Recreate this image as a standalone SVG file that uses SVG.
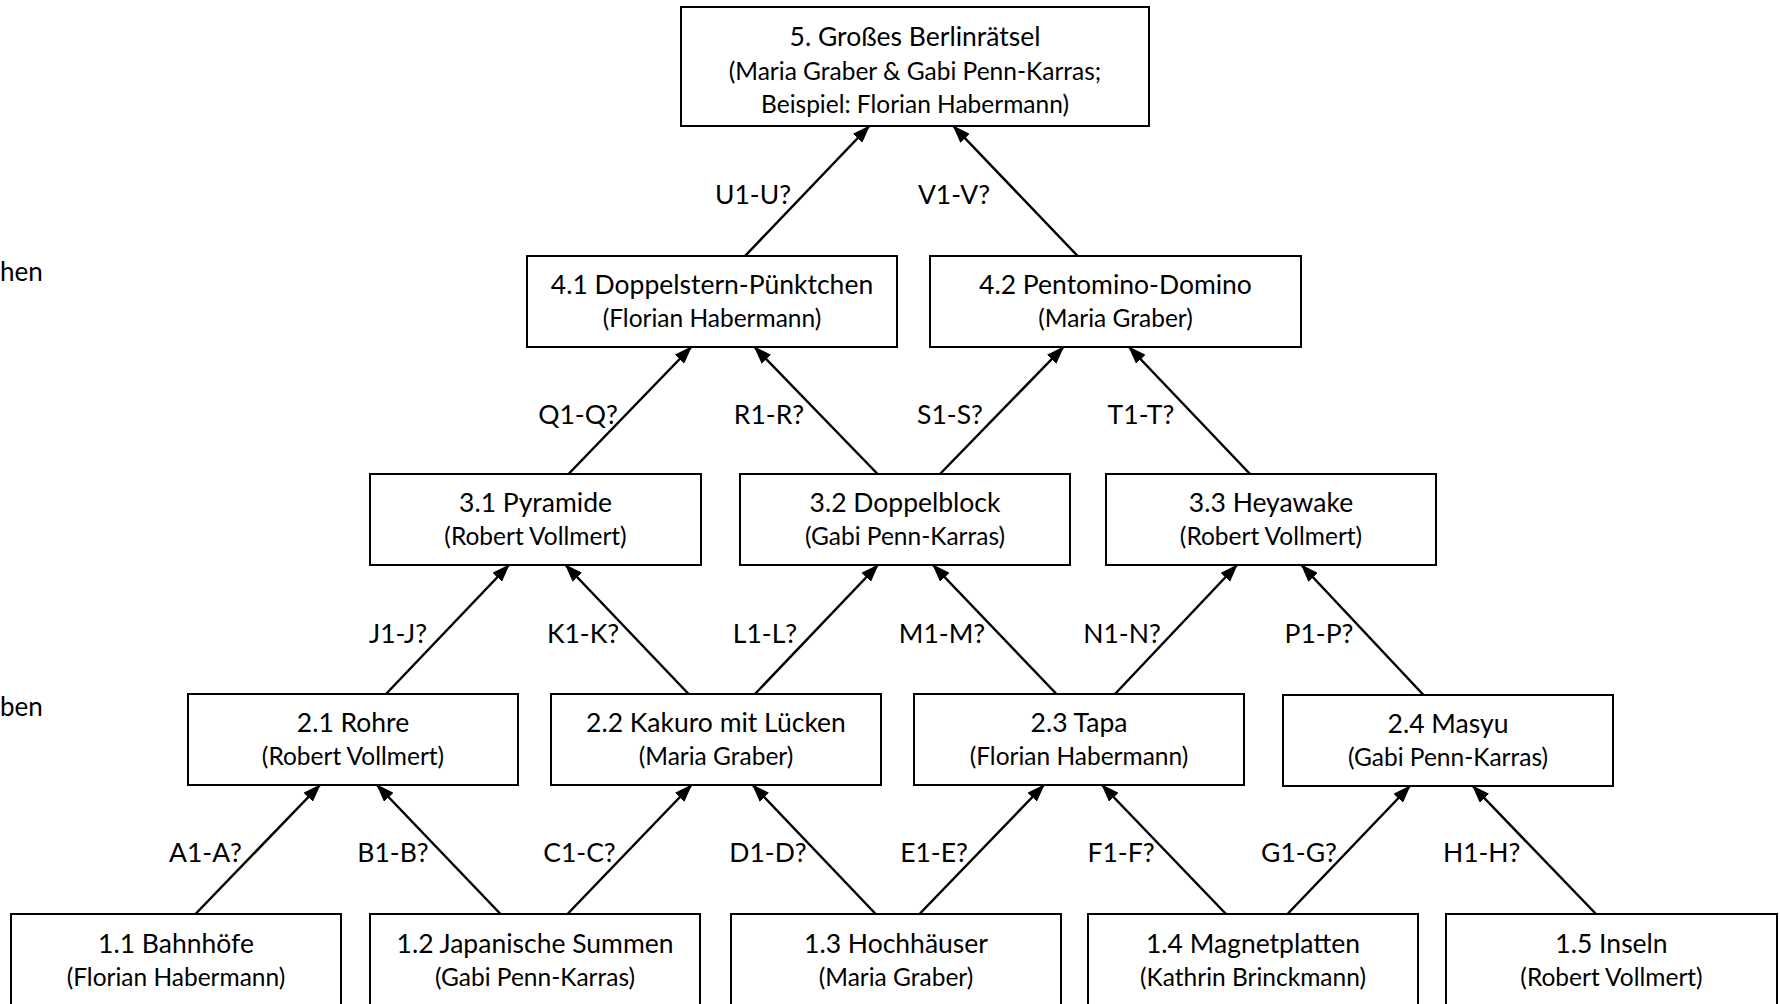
<svg xmlns="http://www.w3.org/2000/svg" width="1780" height="1004" viewBox="0 0 1780 1004">
<style>
  .box { fill: #ffffff; stroke: #000000; stroke-width: 2; }
  .t1 { font-family: Lato, "Liberation Sans", sans-serif; font-size: 26.5px; fill: #000000; text-anchor: middle; }
  .t2 { font-family: Lato, "Liberation Sans", sans-serif; font-size: 24.5px; fill: #000000; text-anchor: middle; }
  .lbl { font-family: Lato, "Liberation Sans", sans-serif; font-size: 26.5px; fill: #000000; text-anchor: middle; }
  .side { font-family: Lato, "Liberation Sans", sans-serif; font-size: 26px; fill: #000000; text-anchor: start; }
  .edge { stroke: #000000; stroke-width: 2.5; fill: none; marker-end: url(#arrow); }
</style>
<defs>
  <marker id="arrow" markerUnits="userSpaceOnUse" markerWidth="18" markerHeight="13" viewBox="0 0 18 13" refX="17" refY="6.5" orient="auto">
    <path d="M0,0 L18,6.5 L0,13 z" fill="#000000"/>
  </marker>
</defs>
<rect x="0" y="0" width="1780" height="1004" fill="#ffffff"/>

<text class="side" x="0" y="281">hen</text>
<text class="side" x="0" y="716">ben</text>

<g id="connectors">
  <line class="edge" x1="195.5" y1="914" x2="320" y2="785"/>
  <line class="edge" x1="500.5" y1="914" x2="377" y2="785"/>
  <line class="edge" x1="567.5" y1="914" x2="691.5" y2="785"/>
  <line class="edge" x1="875.7" y1="914" x2="752.7" y2="785"/>
  <line class="edge" x1="919.5" y1="914" x2="1044" y2="785"/>
  <line class="edge" x1="1226" y1="914" x2="1102" y2="785"/>
  <line class="edge" x1="1287.5" y1="914" x2="1410" y2="786"/>
  <line class="edge" x1="1596" y1="914" x2="1472.7" y2="786"/>
  <line class="edge" x1="386" y1="694" x2="509" y2="565"/>
  <line class="edge" x1="688.6" y1="694" x2="565.6" y2="565"/>
  <line class="edge" x1="755" y1="694" x2="878" y2="565"/>
  <line class="edge" x1="1056.5" y1="694" x2="933" y2="565"/>
  <line class="edge" x1="1115" y1="694" x2="1237" y2="565"/>
  <line class="edge" x1="1423.5" y1="695" x2="1301.5" y2="565"/>
  <line class="edge" x1="568.5" y1="474" x2="691.3" y2="347"/>
  <line class="edge" x1="877.6" y1="474" x2="754.5" y2="347"/>
  <line class="edge" x1="940" y1="474" x2="1063.5" y2="347"/>
  <line class="edge" x1="1250" y1="474" x2="1129" y2="347"/>
  <line class="edge" x1="745" y1="256" x2="869.3" y2="126"/>
  <line class="edge" x1="1077.7" y1="256" x2="953.3" y2="126"/>

  <text class="lbl" x="753" y="204">U1-U?</text>
  <text class="lbl" x="954" y="204">V1-V?</text>
  <text class="lbl" x="578" y="424">Q1-Q?</text>
  <text class="lbl" x="769" y="424">R1-R?</text>
  <text class="lbl" x="950" y="424">S1-S?</text>
  <text class="lbl" x="1141" y="424">T1-T?</text>
  <text class="lbl" x="398" y="643">J1-J?</text>
  <text class="lbl" x="583" y="643">K1-K?</text>
  <text class="lbl" x="765" y="643">L1-L?</text>
  <text class="lbl" x="942" y="643">M1-M?</text>
  <text class="lbl" x="1122" y="643">N1-N?</text>
  <text class="lbl" x="1319" y="643">P1-P?</text>
  <text class="lbl" x="205.5" y="862">A1-A?</text>
  <text class="lbl" x="393" y="862">B1-B?</text>
  <text class="lbl" x="579.5" y="862">C1-C?</text>
  <text class="lbl" x="768" y="862">D1-D?</text>
  <text class="lbl" x="934" y="862">E1-E?</text>
  <text class="lbl" x="1121" y="862">F1-F?</text>
  <text class="lbl" x="1299" y="862">G1-G?</text>
  <text class="lbl" x="1481.7" y="862">H1-H?</text>
</g>

<g id="n5">
  <rect class="box" x="681" y="7" width="468" height="119"/>
  <text class="t1" x="915" y="46">5. Großes Berlinrätsel</text>
  <text class="t2" x="915" y="80">(Maria Graber &amp; Gabi Penn-Karras;</text>
  <text class="t2" x="915" y="113">Beispiel: Florian Habermann)</text>
</g>

<g id="n4-1">
  <rect class="box" x="527" y="256" width="370" height="91"/>
  <text class="t1" x="712" y="294">4.1 Doppelstern-Pünktchen</text>
  <text class="t2" x="712" y="327">(Florian Habermann)</text>
</g>
<g id="n4-2">
  <rect class="box" x="930" y="256" width="371" height="91"/>
  <text class="t1" x="1115.5" y="294">4.2 Pentomino-Domino</text>
  <text class="t2" x="1115.5" y="327">(Maria Graber)</text>
</g>

<g id="n3-1">
  <rect class="box" x="370" y="474" width="331" height="91"/>
  <text class="t1" x="535.5" y="512">3.1 Pyramide</text>
  <text class="t2" x="535.5" y="545">(Robert Vollmert)</text>
</g>
<g id="n3-2">
  <rect class="box" x="740" y="474" width="330" height="91"/>
  <text class="t1" x="905" y="512">3.2 Doppelblock</text>
  <text class="t2" x="905" y="545">(Gabi Penn-Karras)</text>
</g>
<g id="n3-3">
  <rect class="box" x="1106" y="474" width="330" height="91"/>
  <text class="t1" x="1271" y="512">3.3 Heyawake</text>
  <text class="t2" x="1271" y="545">(Robert Vollmert)</text>
</g>

<g id="n2-1">
  <rect class="box" x="188" y="694" width="330" height="91"/>
  <text class="t1" x="353" y="732">2.1 Rohre</text>
  <text class="t2" x="353" y="765">(Robert Vollmert)</text>
</g>
<g id="n2-2">
  <rect class="box" x="551" y="694" width="330" height="91"/>
  <text class="t1" x="716" y="732">2.2 Kakuro mit Lücken</text>
  <text class="t2" x="716" y="765">(Maria Graber)</text>
</g>
<g id="n2-3">
  <rect class="box" x="914" y="694" width="330" height="91"/>
  <text class="t1" x="1079" y="732">2.3 Tapa</text>
  <text class="t2" x="1079" y="765">(Florian Habermann)</text>
</g>
<g id="n2-4">
  <rect class="box" x="1283" y="695" width="330" height="91"/>
  <text class="t1" x="1448" y="733">2.4 Masyu</text>
  <text class="t2" x="1448" y="766">(Gabi Penn-Karras)</text>
</g>

<g id="n1-1">
  <rect class="box" x="11" y="914" width="330" height="100"/>
  <text class="t1" x="176" y="953">1.1 Bahnhöfe</text>
  <text class="t2" x="176" y="986">(Florian Habermann)</text>
</g>
<g id="n1-2">
  <rect class="box" x="370" y="914" width="330" height="100"/>
  <text class="t1" x="535" y="953">1.2 Japanische Summen</text>
  <text class="t2" x="535" y="986">(Gabi Penn-Karras)</text>
</g>
<g id="n1-3">
  <rect class="box" x="731" y="914" width="330" height="100"/>
  <text class="t1" x="896" y="953">1.3 Hochhäuser</text>
  <text class="t2" x="896" y="986">(Maria Graber)</text>
</g>
<g id="n1-4">
  <rect class="box" x="1088" y="914" width="330" height="100"/>
  <text class="t1" x="1253" y="953">1.4 Magnetplatten</text>
  <text class="t2" x="1253" y="986">(Kathrin Brinckmann)</text>
</g>
<g id="n1-5">
  <rect class="box" x="1446" y="914" width="331" height="100"/>
  <text class="t1" x="1611.5" y="953">1.5 Inseln</text>
  <text class="t2" x="1611.5" y="986">(Robert Vollmert)</text>
</g>
</svg>
